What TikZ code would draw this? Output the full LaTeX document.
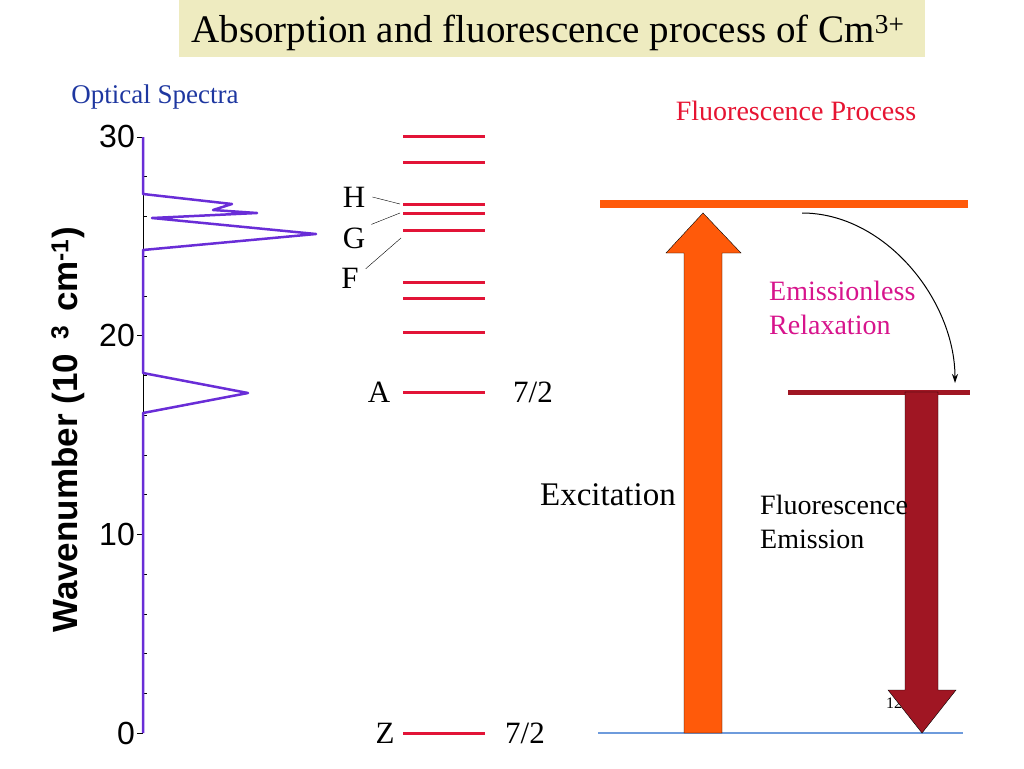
\documentclass[tikz,border=0pt]{standalone}
\usepackage{fontspec}
\setmainfont{Liberation Serif}
\setsansfont{Liberation Sans}
\usetikzlibrary{arrows.meta}

\definecolor{titlebg}{RGB}{238,235,192}
\definecolor{specpurple}{RGB}{105,45,215}
\definecolor{levelred}{RGB}{226,20,55}
\definecolor{opticblue}{RGB}{30,55,160}
\definecolor{processred}{RGB}{230,20,50}
\definecolor{relaxmagenta}{RGB}{215,20,140}
\definecolor{exciteorange}{RGB}{255,90,10}
\definecolor{emitred}{RGB}{160,22,35}
\definecolor{groundblue}{RGB}{110,155,220}

\begin{document}
\begin{tikzpicture}[x=1pt, y=-1pt,
    level/.style={draw=levelred, line width=3pt},
    lbl/.style={font=\fontsize{31}{31}\selectfont, inner sep=3pt},
    body/.style={font=\fontsize{28}{34}\selectfont, inner sep=0pt, align=left},
    ticklbl/.style={font=\sffamily\fontsize{32}{32}\selectfont, anchor=east, inner sep=2pt}]
        \useasboundingbox (0,0) rectangle (1024,768);

        % Title
        \fill[titlebg] (179,0) rectangle (925,57);
        \node[font=\fontsize{39}{39}\selectfont, anchor=base, inner sep=0pt] (title) at (548,43)
            {Absorption and fluorescence process of Cm\textsuperscript{3+}};

        % Axis
        \draw[thin] (143,137) -- (143,733);
        \foreach \v in {0,10,20,30}
            \draw[thin] (137,{733-19.87*\v}) -- (143,{733-19.87*\v}) node[ticklbl] at (137,{733-19.87*\v}) {\v};
        \foreach \v in {2,4,6,8,12,14,16,18,22,24,26,28}
            \draw[thin] (143,{733-19.87*\v}) -- (147,{733-19.87*\v});
        \node[rotate=90, font=\sffamily\bfseries\fontsize{35}{35}\selectfont] (ylabel) at (68,430)
            {Wavenumber (10\hspace{0.4em}\textsuperscript{3}\hspace{0.4em}cm\textsuperscript{-1})};
        \node[font=\fontsize{27}{27}\selectfont, text=opticblue, anchor=base, inner sep=0pt] (optic) at (155,103) {Optical Spectra};

        % Spectrum
        \draw[specpurple, line width=2.5pt, line join=round] (143,137) -- (143,194) -- (232,204) -- (213,210) -- (257,213)
            -- (152,218) -- (316,234) -- (143,250) -- (143,373) -- (248,393) -- (143,413) -- (143,733);

        % Energy levels
        \foreach \y in {136,162,204,213,230,282,298,332,392,733}
            \draw[level] (403,\y) -- (485,\y);
        \coordinate (hlev) at (400,204);
        \coordinate (glev) at (400,213);
        \coordinate (flev) at (401,238);
        \node[lbl] (H) at (354,197) {H};
        \node[lbl] (G) at (354,238) {G};
        \node[lbl] (F) at (350,278) {F};
        \draw[thin] ([xshift=4pt]H.east) -- (hlev);
        \draw[thin] ([xshift=3pt]G.north east) -- (glev);
        \draw[thin] ([xshift=4pt,yshift=-4pt]F.north east) -- (flev);
        \node[lbl] (A) at (379,392) {A};
        \node[lbl] (Aj) at (533,392) {7/2};
        \node[lbl] (Z) at (385,733) {Z};
        \node[lbl] (Zj) at (525,733) {7/2};

        % Fluorescence process
        \node[body, text=processred, anchor=base] (process) at (796,120) {Fluorescence Process};
        \draw[exciteorange, line width=8pt] (600,204) -- (968,204);
        \draw[emitred, line width=5pt] (788,392) -- (970,392);
        \draw[groundblue, line width=1.5pt] (598,733) -- (963,733);
        \node[font=\fontsize{16}{16}\selectfont, anchor=west, inner sep=0pt] (page) at (886,703) {12};

        % Excitation
        \filldraw[fill=exciteorange, draw=black, thin] (684,733) -- (684,253) -- (666,253) -- (703,213) -- (741,253)
            -- (722,253) -- (722,733) -- cycle;
        \node[font=\fontsize{33}{33}\selectfont, anchor=base east, inner sep=0pt] (excite) at (676,505) {Excitation};

        % Emission
        \filldraw[fill=emitred, draw=black, thin] (905,392) -- (905,690) -- (888,690) -- (922,733) -- (956,690)
            -- (938,690) -- (938,392) -- cycle;
        \node[body, anchor=west] (emit) at (760,522) {Fluorescence\\Emission};

        % Relaxation
        \node[body, text=relaxmagenta, anchor=west] (relax) at (769,308) {Emissionless\\Relaxation};
        \coordinate (relaxstart) at (802,213);
        \coordinate (relaxend) at (955,383);
        \draw[line width=1pt, -{Stealth[length=9pt,width=6pt]}] (relaxstart) .. controls (885,213) and (955,300) .. (relaxend);

      \end{tikzpicture}
\end{document}
